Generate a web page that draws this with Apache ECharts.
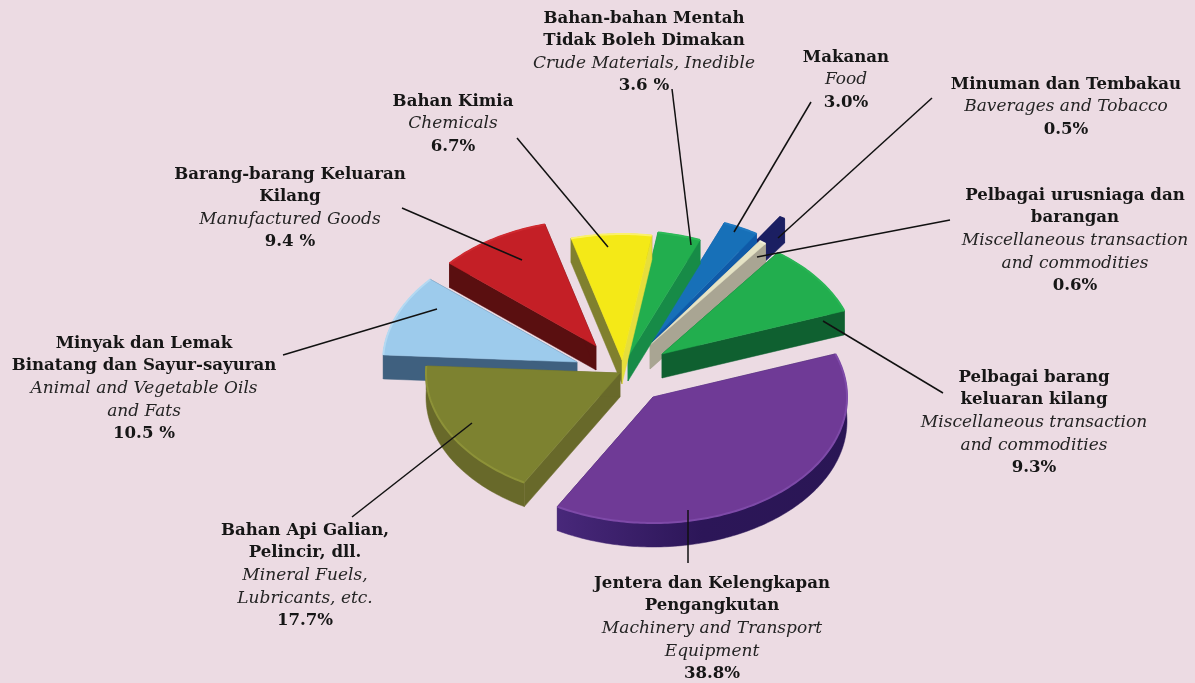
<!DOCTYPE html>
<html><head><meta charset="utf-8">
<style>html,body{margin:0;padding:0;background:#ecdbe3}#c{width:1195px;height:683px}</style>
<script src="https://cdn.jsdelivr.net/npm/echarts@6/dist/echarts.min.js"></script>
</head><body><div id="c"></div>
<script>
// ---- data ----
const values = [38.8, 17.7, 10.5, 9.4, 6.7, 3.6, 3.0, 0.5, 0.6, 9.3];
const titles = [
  ["Jentera dan Kelengkapan", "Pengangkutan"],
  ["Bahan Api Galian,", "Pelincir, dll."],
  ["Minyak dan Lemak", "Binatang dan Sayur-sayuran"],
  ["Barang-barang Keluaran", "Kilang"],
  ["Bahan Kimia"],
  ["Bahan-bahan Mentah", "Tidak Boleh Dimakan"],
  ["Makanan"],
  ["Minuman dan Tembakau"],
  ["Pelbagai urusniaga dan", "barangan"],
  ["Pelbagai barang", "keluaran kilang"]
];
const subtitles = [
  ["Machinery and Transport", "Equipment"],
  ["Mineral Fuels,", "Lubricants, etc."],
  ["Animal and Vegetable Oils", "and Fats"],
  ["Manufactured Goods"],
  ["Chemicals"],
  ["Crude Materials, Inedible"],
  ["Food"],
  ["Baverages and Tobacco"],
  ["Miscellaneous transaction", "and commodities"],
  ["Miscellaneous transaction", "and commodities"]
];
const valueLabels = ["38.8%", "17.7%", "10.5 %", "9.4 %", "6.7%", "3.6 %", "3.0%", "0.5%", "0.6%", "9.3%"];

// ---- look and layout ----
const topColors  = ["#6f3a96", "#7d8230", "#9dcbec", "#c41f26", "#f4e917", "#22ae4e", "#1770b8", "#1b1f62", "#e5e3c5", "#22ae4e"];
const sideColors = ["#2f1a5c", "#68692a", "#3f607f", "#5a0f10", "#80802e", "#178b47", "#0f5aa8", "#1b1f62", "#a9a593", "#0f6030"];
const endFaceColors = ["#2f1a5c", "#68692a", "#3f607f", "#5a0f10", "#e6de3c", "#178b47", "#0f5aa8", "#1b1f62", "#a9a593", "#0f6030"];
const rimColors  = ["#7e4aa8", "#8d9238", "#b4d9f2", "#cf2a30", "#fbf26a", "#2dba58", "#2079c0", "#1b1f62", "#f0eed8", "#2ab556"];
const centre = [625, 360], radiusX = 194, radiusY = 126, depth = 24, startAngle = -20;
const explode = [[28,37],[-5,13],[-48,2],[-29,-14],[-3,0],[3,-3],[27,-20],[50,-37],[25,-15],[37,-6]];
const drawOrder = [7, 6, 8, 5, 4, 2, 3, 9, 1, 0];
const labelPos = [[712,572],[305,519],[144,332],[290,163],[453,90],[644,7],[846,46],[1066,73],[1075,184],[1034,366]];
const leaders = [
  [[688,563],[688,510]], [[352,517],[472,423]], [[283,355],[437,309]], [[402,208],[522,260]],
  [[517,138],[608,247]], [[672,89],[691,245]], [[811,102],[734,232]], [[932,98],[778,238]],
  [[950,220],[757,257]], [[943,393],[823,321]]
];

const total = values.reduce((a, b) => a + b, 0);
const FONT = '"DejaVu Serif", serif';

function renderSlice(params, api) {
  const i = api.value(0), v = api.value(1);
  let before = 0;
  for (let k = 0; k < i; k++) before += values[k];
  const a0 = startAngle + before / total * 360;
  const a1 = a0 + v / total * 360;
  const ax = centre[0] + explode[i][0], ay = centre[1] + explode[i][1];
  const arc = [];
  const steps = Math.max(2, Math.ceil(a1 - a0));
  for (let s = 0; s <= steps; s++) {
    const t = (a0 + (a1 - a0) * s / steps) * Math.PI / 180;
    arc.push([ax + radiusX * Math.cos(t), ay + radiusY * Math.sin(t)]);
  }
  const down = p => [p[0], p[1] + depth];
  const apex = [ax, ay];
  const side = i === 0
    ? new echarts.graphic.LinearGradient(0, 0, 1, 0, [
        {offset: 0, color: '#48287a'}, {offset: 0.5, color: '#2c1658'}, {offset: 1, color: '#2a1655'}])
    : sideColors[i];
  const sideStyle = {fill: side, stroke: side, lineWidth: 0.5};
  const endStyle = {fill: endFaceColors[i], stroke: endFaceColors[i], lineWidth: 0.5};
  const strip = {type: 'polygon', shape: {points: arc.concat(arc.slice().reverse().map(down))}, style: sideStyle};
  const faces = [
    {type: 'polygon', shape: {points: [apex, arc[0], down(arc[0]), down(apex)]}, style: sideStyle},
    {type: 'polygon', shape: {points: [apex, arc[arc.length-1], down(arc[arc.length-1]), down(apex)]}, style: endStyle}
  ];
  // the outer wall faces the viewer only on the near half of the ellipse
  const facesViewer = Math.sin((a0 + a1) / 2 * Math.PI / 180) > 0;
  const walls = facesViewer ? faces.concat([strip]) : [strip].concat(faces);
  const children = walls.concat([
    {type: 'polygon', shape: {points: [apex].concat(arc)}, style: {fill: topColors[i], stroke: topColors[i], lineWidth: 0.5}},
    {type: 'polyline', shape: {points: arc}, style: {fill: 'none', stroke: rimColors[i], lineWidth: 2}}
  ]);
  return {type: 'group', children};
}

const graphics = [];
values.forEach((_, i) => {
  const rows = titles[i].map(t => `{b|${t}}`)
    .concat(subtitles[i].map(t => `{i|${t}}`))
    .concat([`{b|${valueLabels[i]}}`]);
  graphics.push({
    type: 'text', x: labelPos[i][0], y: labelPos[i][1], z: 100,
    style: {
      text: rows.join('\n'), align: 'center', verticalAlign: 'top',
      rich: {
        b: {fontFamily: FONT, fontWeight: 'bold', fontSize: 16.6, lineHeight: 22.6, fill: '#161616', align: 'center'},
        i: {fontFamily: FONT, fontStyle: 'italic', fontSize: 17, lineHeight: 22.6, fill: '#242424', align: 'center'}
      }
    }
  });
  graphics.push({
    type: 'line', z: 100,
    shape: {x1: leaders[i][0][0], y1: leaders[i][0][1], x2: leaders[i][1][0], y2: leaders[i][1][1]},
    style: {stroke: '#111', lineWidth: 1.5}
  });
});

const chart = echarts.init(document.getElementById('c'), null, {renderer: 'canvas'});
chart.setOption({
  backgroundColor: '#ecdbe3',
  animation: false,
  graphic: graphics,
  series: [{
    type: 'custom',
    coordinateSystem: 'none',
    renderItem: renderSlice,
    data: drawOrder.map(i => [i, values[i]])
  }]
});
</script></body></html>
